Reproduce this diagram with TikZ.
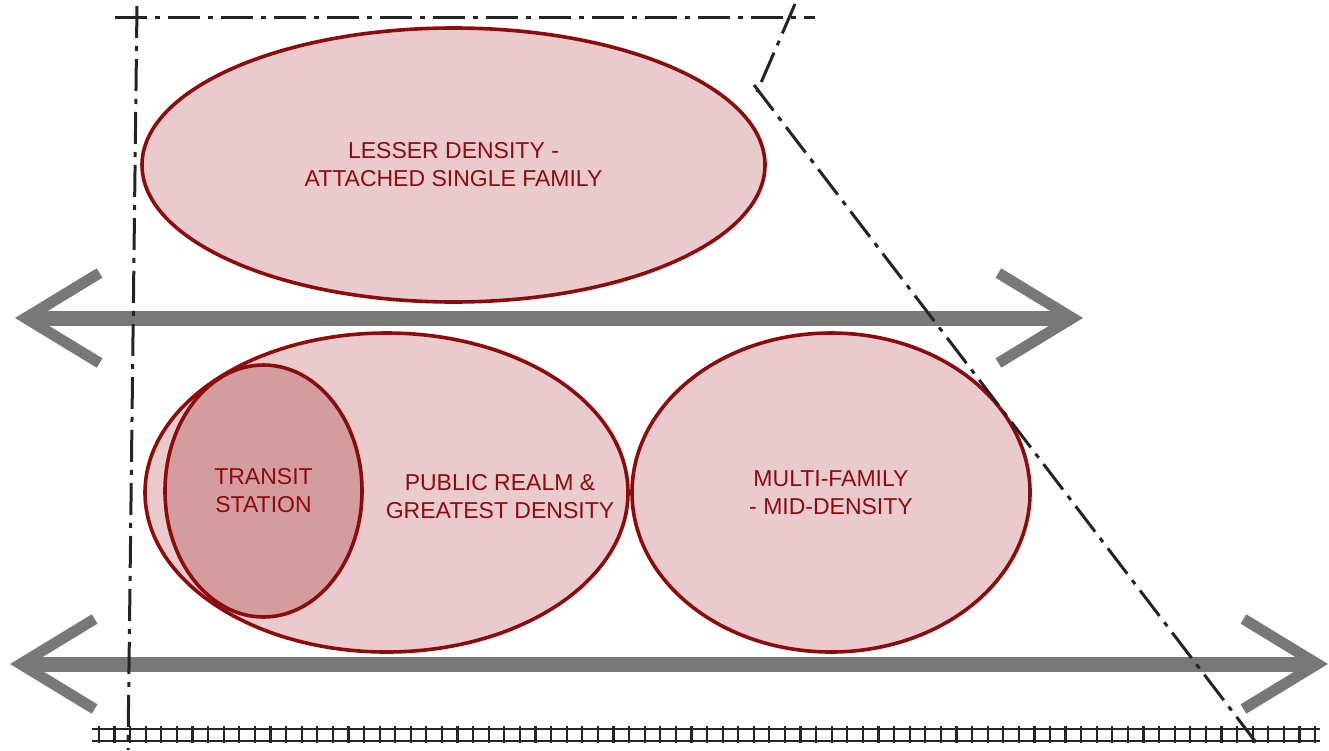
\documentclass[tikz,border=0pt]{standalone}
\usepackage{fontspec}
\setmainfont{Liberation Sans}
\usetikzlibrary{shapes.geometric,arrows.meta}
\definecolor{wine}{RGB}{140,12,14}
\definecolor{blush}{RGB}{233,203,205}
\definecolor{rose}{RGB}{211,157,160}
\definecolor{ink}{RGB}{36,36,36}

\begin{document}
\begin{tikzpicture}[x=1pt, y=-1pt, font=\fontsize{23}{28}\selectfont,
      zone/.style={ellipse, draw=wine, line width=3.6pt, fill=blush, inner sep=0pt, align=center, text=wine},
      tag/.style={align=center, text=wine, inner sep=0pt},
      road/.style={draw=black!53, line width=15pt, {Straight Barb[length=74pt, width=90pt, line width=11pt]}-{Straight Barb[length=74pt, width=90pt, line width=11pt]}},
      bound/.style={draw=ink, line width=3pt, dash pattern=on 32pt off 8pt on 5pt off 8pt},
      track/.style={draw=ink, line width=2.2pt}]
    \useasboundingbox (0,0) rectangle (1329,750);
    % land use zones
    \node[zone, minimum width=623pt, minimum height=274pt] (lesser) at (453.5,165) {LESSER DENSITY -\\ ATTACHED SINGLE FAMILY};
    \node[zone, minimum width=483pt, minimum height=319pt] (realm) at (386.5,492.5) {};
    \node[zone, fill=rose, minimum width=197pt, minimum height=252pt] (station) at (263.5,491) {TRANSIT\\ STATION};
    \node[zone, minimum width=398pt, minimum height=319pt] (multi) at (831,492.5) {MULTI-FAMILY\\ - MID-DENSITY};
    \node[tag] (realmtext) at (500,497) {PUBLIC REALM \&\\ GREATEST DENSITY};
    % streets
    \coordinate (upw) at (15,318);
    \coordinate (upe) at (1083,318);
    \coordinate (lowv) at (10,664);
    \coordinate (lowe) at (1328,664);
    \draw[road] (upw) -- (upe);
    \draw[road] (lowv) -- (lowe);
    % rail line
    \coordinate (railw) at (92,729);
    \coordinate (raile) at (1320,729);
    \draw[track] (railw) -- (raile);
    \draw[track] ([yshift=-12pt]railw) -- ([yshift=-12pt]raile);
    \foreach \i in {0,...,78} {\draw[track] ({99+15.59*\i},726) -- ++(0,17);}
    % station area boundary
    \coordinate (nw) at (115,17);
    \coordinate (ne) at (815,17);
    \coordinate (wtop) at (137,6);
    \coordinate (wbot) at (128,750);
    \coordinate (ntop) at (795,4);
    \coordinate (kink) at (757,92);
    \coordinate (sbeg) at (754,85);
    \coordinate (send) at (1258,745);
    \draw[bound] (nw) -- (ne);
    \draw[bound] (wtop) -- (wbot);
    \draw[bound] (ntop) -- (kink);
    \draw[bound] (sbeg) -- (send);
\end{tikzpicture}
\end{document}
